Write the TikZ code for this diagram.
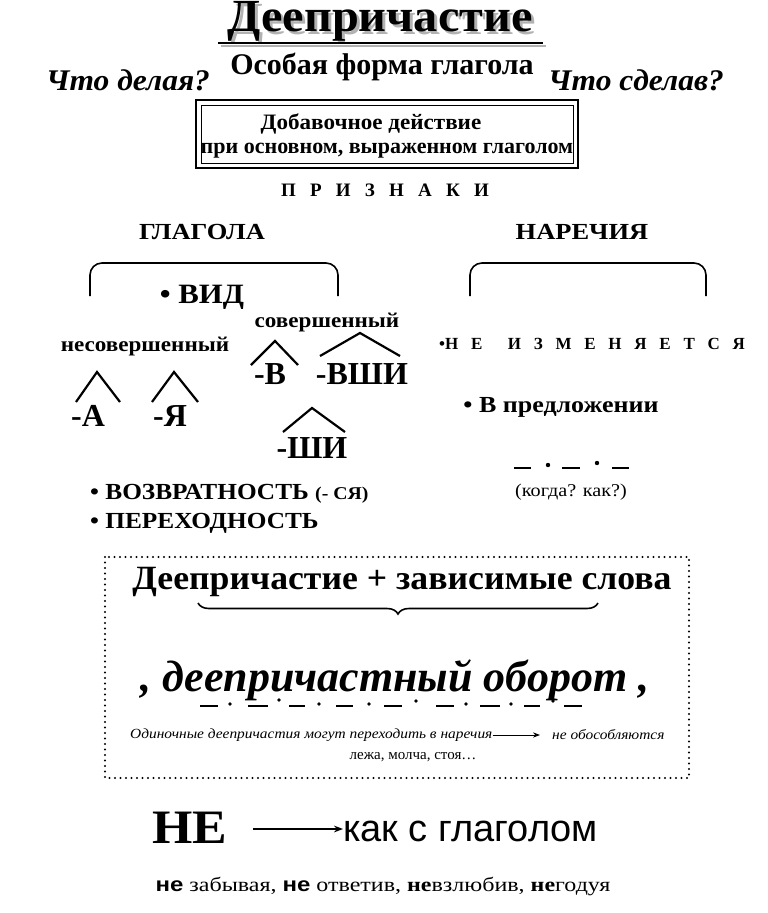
\documentclass[tikz,border=0pt]{standalone}
\usepackage{fontspec}
\setmainfont{Liberation Serif}
\newfontfamily\sansf{Liberation Sans}
\usetikzlibrary{decorations.pathreplacing,arrows.meta}
\begin{document}
\begin{tikzpicture}[x=1pt,y=-1pt,
  txt/.style={inner sep=0pt,font=\bfseries},
  caret/.style={line width=2.2pt,line join=miter},
  brk/.style={line width=1.6pt,rounded corners=12pt}]
\useasboundingbox (0,0) rectangle (768,913);
% title
\node[txt,text=gray!60,xscale=1.05] at (383,24) {\fontsize{46}{46}\selectfont Деепричастие};
\node[txt,xscale=1.05] (title) at (380,21) {\fontsize{46}{46}\selectfont Деепричастие};
\draw[gray!60,line width=2pt] (221,46) -- (546,46);
\draw[line width=2pt] (218,43) -- (543,43);
\node[txt] (osob) at (382,67) {\fontsize{30}{30}\selectfont Особая форма глагола};
\node[txt,xscale=1.05] (q1) at (128,80) {\fontsize{30}{30}\selectfont\itshape Что делая?};
\node[txt,xscale=1.05] (q2) at (636,80) {\fontsize{30}{30}\selectfont\itshape Что сделав?};
\draw[line width=1.4pt] (196,100) rectangle (578,168);
\draw[line width=0.8pt] (201,105) rectangle (573,163);
\node[txt,xscale=1.05] (d1) at (371,124) {\fontsize{22}{22}\selectfont Добавочное действие};
\node[txt] (d2) at (387,151) {\fontsize{22}{22}\selectfont при основном, выраженном глаголом};
\node[txt] (prizn) at (385,190) {\fontsize{19}{19}\selectfont П\ \ \ Р\ \ \ И\ \ \ З\ \ \ Н\ \ \ А\ \ \ К\ \ \ И};
\node[txt,xscale=1.15] (glag) at (202,232) {\fontsize{23}{23}\selectfont ГЛАГОЛА};
\node[txt,xscale=1.15] (nar) at (582,232) {\fontsize{23}{23}\selectfont НАРЕЧИЯ};
% brackets
\draw[brk] (90,296) -- (90,263) -- (338,263) -- (338,296);
\draw[brk] (470,296) -- (470,263) -- (706,263) -- (706,296);
\node[txt,xscale=1.1] (vid) at (202,297) {\fontsize{28}{28}\selectfont • ВИД};
\node[txt,xscale=1.1] (sov) at (327,323) {\fontsize{21}{21}\selectfont совершенный};
\node[txt,xscale=1.1] (nesov) at (145,347) {\fontsize{21}{21}\selectfont несовершенный};
\draw[caret] (76,402) -- (97,372) -- (120,402);
\node[txt] (a) at (88,416) {\fontsize{32}{32}\selectfont -А};
\draw[caret] (152,402) -- (174,372) -- (198,402);
\node[txt] (ya) at (170,416) {\fontsize{32}{32}\selectfont -Я};
\draw[caret] (251,365) -- (275,341) -- (298,365);
\node[txt] (v) at (270,374) {\fontsize{32}{32}\selectfont -В};
\draw[caret] (320,356) -- (360,333) -- (400,356);
\node[txt] (vshi) at (362,374) {\fontsize{32}{32}\selectfont -ВШИ};
\draw[caret] (283,432) -- (312,408) -- (345,432);
\node[txt] (shi) at (312,448) {\fontsize{32}{32}\selectfont -ШИ};
\node[txt,anchor=west,xscale=1.1] (vozv) at (90,494) {\fontsize{23}{23}\selectfont • ВОЗВРАТНОСТЬ {\fontsize{18}{18}\selectfont(- СЯ)}};
\node[txt,anchor=west,xscale=1.1] (perex) at (90,523) {\fontsize{23}{23}\selectfont • ПЕРЕХОДНОСТЬ};
\node[txt] (neizm) at (592,344) {\fontsize{17}{17}\selectfont •Н\ \ \ Е\ \ \ \ \ \ И\ \ \ З\ \ \ М\ \ \ Е\ \ \ Н\ \ \ Я\ \ \ Е\ \ \ Т\ \ \ С\ \ \ Я};
\node[txt,xscale=1.13] (vpred) at (561,407) {\fontsize{23}{23}\selectfont • В предложении};
\draw[line width=2pt] (514,468) -- (531,468) (562,468) -- (580,468) (612,468) -- (629,468);
\fill (548,465) circle (2.2) (597,463) circle (2.2);
\node[inner sep=0pt,xscale=1.12] (kogda) at (571,492) {\fontsize{18}{18}\selectfont (когда? как?)};
% dotted box
\draw[line width=2.4pt,dash pattern=on 0pt off 5.5pt,line cap=round] (105,557) rectangle (689,778);
\node[txt,xscale=1.05] (dz) at (402,582) {\fontsize{34}{34}\selectfont Деепричастие + зависимые слова};
\draw[line width=1.6pt,decorate,decoration={brace,mirror,amplitude=11pt}] (198,603) -- (598,603);
\node[txt] (obor) at (395,680) {\fontsize{44}{44}\selectfont\itshape , деепричастный оборот ,};
\foreach \a/\b in {200/218,248/268,289/305,336/353,384/402,436/454,480/500,524/540,564/582}
  \draw[line width=1.6pt] (\a,706) -- (\b,706);
\foreach \p/\q in {230/704,279/700,319/704,369/704,416/701,466/704,511/704,553/701}
  \fill (\p,\q) circle (1.8);
\node[inner sep=0pt,anchor=west,xscale=1.1] (odin) at (130,735) {\fontsize{14}{14}\selectfont\itshape Одиночные деепричастия могут переходить в наречия};
\node[inner sep=0pt,anchor=west,xscale=1.1] (neob) at (552,735) {\fontsize{14}{14}\selectfont\itshape не обособляются};
\draw[-{Stealth[length=7pt]},line width=0.9pt] (odin.east) -- ([xshift=-12pt]neob.west);
\node[inner sep=0pt] (lezha) at (413,757) {\fontsize{15}{15}\selectfont лежа, молча, стоя…};
% bottom
\node[txt,xscale=1.08] (ne) at (190,828) {\fontsize{48}{48}\selectfont НЕ};
\node[inner sep=0pt,font=\sansf,anchor=west] (kak) at (343,831) {\fontsize{38}{38}\selectfont как с глаголом};
\coordinate (arrS) at (253,829);
\draw[-{Stealth[length=9pt]},line width=1.8pt] (arrS) -- (arrS -| kak.west);
\node[inner sep=0pt,xscale=1.2] (ex) at (383,886) {\fontsize{20}{20}\selectfont{\sansf\bfseries не} забывая, {\sansf\bfseries не} ответив, {\bfseries не}взлюбив, {\bfseries не}годуя};
\end{tikzpicture}
\end{document}
